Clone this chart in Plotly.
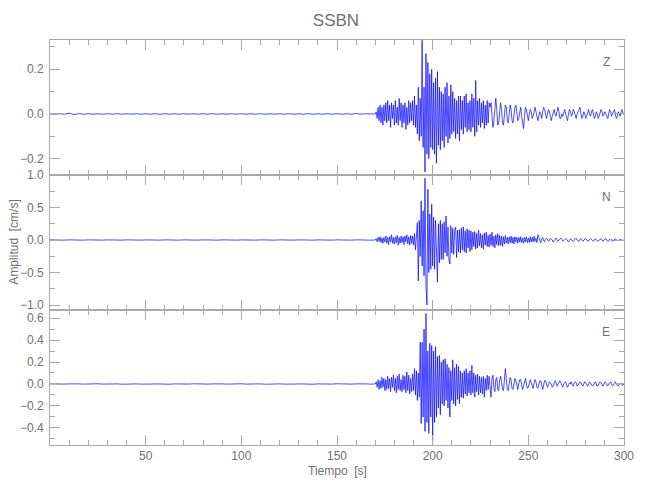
import numpy as np
import plotly.graph_objects as go
from plotly.subplots import make_subplots

# ---------------- data ----------------
station = "SSBN"
components = ["Z", "N", "E"]

# pre-event noise, sampled every 2.5 s from t = 0 to 167.5 s
pre_step = 2.5
z_pre = [0.001, -0.001, 0.001, -0.001, 0.004, -0.003, 0.002, -0.001, 0.001, -0.001,
         0.001, -0.001, 0.001, -0.001, 0.001, -0.001, 0.001, -0.001, 0.001, -0.001,
         0.001, -0.001, 0.001, -0.001, 0.001, -0.001, 0.001, -0.001, 0.001, -0.001,
         0.001, -0.001, 0.001, -0.001, 0.001, -0.001, 0.001, -0.001, 0.001, -0.001,
         0.001, -0.001, 0.001, -0.001, 0.001, -0.001, 0.001, -0.001, 0.001, -0.001,
         0.001, -0.001, 0.001, -0.001, 0.001, -0.001, 0.001, -0.001, 0.001, -0.001,
         0.001, -0.001, 0.001, -0.001, 0.002, -0.001, 0.001, -0.001]
n_pre = [0.002, -0.002, 0.002, -0.002, 0.002, -0.002, 0.002, -0.002, 0.002, -0.002,
         0.002, -0.002, 0.002, -0.002, 0.002, -0.002, 0.002, -0.002, 0.002, -0.002,
         0.002, -0.002, 0.002, -0.002, 0.002, -0.002, 0.002, -0.002, 0.002, -0.002,
         0.002, -0.002, 0.002, -0.002, 0.002, -0.002, 0.002, -0.002, 0.002, -0.002,
         0.002, -0.002, 0.002, -0.002, 0.002, -0.002, 0.002, -0.002, 0.002, -0.002,
         0.002, -0.002, 0.002, -0.002, 0.002, -0.002, 0.002, -0.002, 0.002, -0.002,
         0.002, -0.002, 0.002, -0.002, 0.002, -0.002, 0.002, -0.002]
e_pre = [0.001, -0.001, 0.002, -0.001, 0.001, -0.002, 0.001, -0.001, 0.001, -0.001,
         0.002, -0.001, 0.001, -0.001, 0.001, -0.002, 0.001, -0.001, 0.001, -0.001,
         0.002, -0.001, 0.001, -0.001, 0.001, -0.002, 0.001, -0.001, 0.001, -0.001,
         0.002, -0.001, 0.001, -0.001, 0.001, -0.002, 0.001, -0.001, 0.001, -0.001,
         0.002, -0.001, 0.001, -0.001, 0.001, -0.002, 0.001, -0.001, 0.001, -0.001,
         0.002, -0.001, 0.001, -0.001, 0.001, -0.002, 0.001, -0.001, 0.001, -0.001,
         0.002, -0.001, 0.001, -0.001, 0.001, -0.002, 0.001, -0.001]

# event part, sampled every 0.5 s from t = 170 to 300 s (cm/s)
ev_start = 170.0
ev_step = 0.5
z_ev = [
    0.00, 0.01, -0.02, 0.03, -0.03, 0.04, -0.04, 0.03, -0.05, 0.04,
    -0.03, 0.05, -0.04, 0.06, -0.03, 0.04, -0.06, 0.05, -0.02, 0.04,
    -0.05, 0.06, -0.04, 0.03, -0.05, 0.07, -0.03, 0.05, -0.06, 0.04,
    -0.04, 0.05, -0.07, 0.03, -0.05, 0.06, -0.04, 0.05, -0.03, 0.06,
    -0.05, 0.08, -0.06, 0.04, -0.09, 0.12, -0.12, 0.07, -0.10, 0.33,
    -0.15, 0.12, -0.26, 0.27, -0.18, 0.23, -0.20, 0.18, -0.15, 0.20,
    -0.16, 0.14, -0.18, 0.16, -0.22, 0.19, -0.14, 0.12, -0.16, 0.10,
    -0.12, 0.09, -0.15, 0.12, -0.10, 0.14, -0.13, 0.08, -0.11, 0.13,
    -0.09, 0.10, -0.08, 0.07, -0.11, 0.06, -0.09, 0.08, -0.12, 0.08,
    -0.07, 0.06, -0.09, 0.08, -0.06, 0.09, -0.08, 0.05, -0.07, 0.06,
    -0.08, 0.09, -0.06, 0.07, -0.10, 0.15, -0.08, 0.06, -0.05, 0.07,
    -0.06, 0.05, -0.04, 0.06, -0.065, 0.04, -0.05, 0.06, -0.04, 0.05,
    0.03, 0.05, -0.02, -0.06, -0.03, 0.04, 0.07, 0.02, -0.05, -0.04,
    0.01, 0.05, 0.02, -0.04, -0.05, 0.00, 0.04, 0.03, -0.03, -0.04,
    0.01, 0.04, 0.02, -0.03, -0.04, 0.00, 0.03, 0.04, -0.01, -0.03,
    -0.02, 0.02, 0.03, -0.01, -0.04, -0.065, -0.01, 0.03, 0.02, -0.02,
    -0.03, 0.00, 0.02, 0.01, -0.02, -0.01, 0.02, 0.03, 0.01, -0.02,
    -0.03, -0.01, 0.01, 0.00, -0.02, 0.01, 0.03, 0.02, -0.01, -0.02,
    0.00, 0.02, 0.01, -0.01, -0.03, -0.01, 0.01, 0.02, 0.00, -0.01,
    0.01, 0.03, 0.01, -0.02, -0.02, 0.00, -0.01, 0.01, 0.02, 0.00,
    -0.02, -0.03, 0.00, 0.02, 0.01, -0.01, 0.00, 0.02, 0.01, -0.01,
    -0.02, 0.00, 0.01, 0.02, 0.03, 0.00, -0.02, -0.01, 0.01, 0.00,
    -0.02, -0.01, 0.01, 0.02, 0.00, -0.01, 0.01, 0.02, 0.00, -0.02,
    -0.01, 0.01, 0.00, -0.02, -0.01, 0.01, 0.02, 0.01, -0.01, 0.00,
    0.01, 0.00, -0.01, -0.02, 0.00, 0.02, 0.01, -0.01, 0.00, 0.01,
    0.02, 0.00, -0.02, -0.01, 0.01, 0.00, -0.01, 0.01, 0.02, 0.00, 0.00]
n_ev = [
    0.00, 0.02, -0.03, 0.04, -0.02, 0.05, -0.04, 0.03, -0.05, 0.04,
    -0.03, 0.06, -0.05, 0.04, -0.07, 0.05, -0.03, 0.08, -0.05, 0.04,
    -0.06, 0.05, -0.04, 0.07, -0.08, 0.04, -0.05, 0.06, -0.04, 0.05,
    -0.07, 0.06, -0.03, 0.08, -0.06, 0.05, -0.08, 0.07, -0.05, 0.06,
    -0.08, 0.10, -0.15, 0.18, 0.27, -0.63, 0.30, -0.25, 0.60, -0.40,
    0.45, -0.55, 0.95, -0.70, -1.00, 0.78, -0.50, 0.40, -0.45, 0.55,
    -0.40, 0.35, -0.45, 0.30, -0.30, -0.65, 0.25, -0.35, 0.30, -0.30,
    0.25, -0.30, 0.28, -0.20, 0.37, -0.25, 0.20, -0.30, -0.37, 0.22,
    -0.20, 0.18, -0.22, 0.15, 0.20, -0.27, 0.15, -0.18, 0.16, -0.20,
    0.18, -0.15, 0.20, -0.18, 0.14, -0.20, 0.17, -0.12, 0.15, -0.18,
    0.14, -0.15, 0.12, -0.10, 0.13, -0.14, 0.10, -0.12, 0.15, -0.09,
    0.10, -0.12, 0.08, -0.14, 0.11, -0.08, 0.12, -0.10, 0.07, -0.11,
    0.09, -0.08, 0.12, -0.10, 0.06, -0.12, 0.08, -0.07, 0.10, -0.09,
    0.07, -0.08, 0.06, -0.10, 0.05, -0.06, 0.07, -0.05, 0.04, -0.06,
    0.05, -0.04, 0.06, -0.05, 0.04, -0.06, 0.05, -0.03, 0.04, -0.05,
    0.04, -0.03, 0.05, -0.04, 0.03, -0.05, 0.04, -0.03, 0.05, -0.04,
    0.03, -0.04, 0.05, -0.03, 0.04, -0.03, 0.06, -0.02, 0.03, -0.04,
    0.08, 0.03, -0.02, -0.04, 0.02, 0.04, -0.01, -0.03, 0.01, 0.03,
    0.01, -0.02, -0.01, 0.02, 0.01, 0.00, -0.03, -0.01, 0.02, 0.03,
    0.00, -0.02, 0.00, 0.01, 0.03, 0.01, -0.02, -0.01, 0.00, 0.02,
    0.01, -0.01, -0.03, -0.01, 0.02, 0.00, -0.01, -0.02, 0.00, 0.02,
    0.03, 0.00, -0.01, -0.02, 0.01, 0.02, 0.00, -0.02, 0.00, 0.01,
    0.02, 0.01, -0.02, -0.01, 0.00, 0.02, 0.01, -0.01, -0.02, 0.00,
    0.02, 0.00, -0.01, -0.02, 0.00, 0.01, 0.02, 0.00, -0.02, 0.00,
    0.01, 0.02, 0.00, -0.02, -0.01, 0.01, 0.00, 0.01, -0.02, -0.01,
    0.01, 0.02, 0.00, -0.01, -0.01, 0.00, 0.01, 0.01, -0.01, 0.00, 0.00]
e_ev = [
    0.00, 0.02, -0.03, 0.04, -0.05, 0.03, -0.04, 0.06, -0.03, 0.05,
    -0.06, 0.04, -0.05, 0.07, -0.04, 0.05, -0.07, 0.06, -0.03, 0.08,
    -0.06, 0.05, -0.08, 0.07, -0.05, 0.09, -0.06, 0.04, -0.07, 0.08,
    -0.05, 0.07, -0.08, 0.11, -0.06, 0.08, -0.09, 0.05, -0.07, 0.09,
    -0.06, 0.14, -0.10, 0.12, -0.15, 0.10, -0.12, 0.38, -0.36, 0.38,
    -0.30, 0.50, -0.43, 0.64, -0.35, 0.30, -0.45, 0.37, -0.30, 0.35,
    -0.51, 0.30, -0.35, 0.34, -0.30, 0.25, -0.22, 0.26, -0.28, 0.20,
    -0.18, 0.22, -0.20, 0.23, -0.15, 0.18, -0.22, 0.15, -0.30, 0.12,
    -0.15, 0.22, -0.18, 0.15, -0.20, 0.18, -0.14, 0.16, -0.18, 0.12,
    -0.12, 0.10, -0.13, 0.12, -0.09, 0.14, -0.11, 0.10, -0.08, 0.12,
    -0.10, 0.17, -0.08, 0.10, -0.12, 0.08, -0.07, 0.09, -0.10, 0.07,
    -0.08, 0.06, -0.09, 0.07, -0.12, 0.05, -0.06, 0.08, -0.05, 0.07,
    -0.06, -0.12, 0.05, 0.08, -0.04, -0.07, 0.04, 0.06, -0.05, -0.06,
    0.03, 0.07, 0.02, -0.05, -0.06, 0.06, 0.14, 0.04, -0.05, -0.06,
    0.02, 0.06, 0.03, -0.04, -0.05, 0.01, 0.05, 0.03, -0.03, -0.05,
    0.00, 0.04, 0.04, -0.02, -0.05, -0.02, 0.03, 0.05, 0.00, -0.04,
    -0.03, 0.02, 0.04, 0.01, -0.03, -0.04, 0.01, 0.04, 0.02, -0.03,
    -0.04, 0.00, 0.03, 0.03, -0.02, -0.05, -0.01, 0.03, 0.03, -0.01,
    -0.03, -0.01, 0.02, 0.01, 0.00, -0.03, -0.02, 0.01, 0.03, 0.01,
    -0.02, 0.00, 0.02, 0.03, 0.01, -0.02, -0.03, 0.00, 0.01, 0.02,
    -0.01, -0.03, -0.01, 0.01, 0.00, 0.02, -0.01, -0.02, 0.01, 0.02,
    0.01, -0.02, -0.01, 0.00, 0.02, 0.01, -0.01, -0.02, 0.00, 0.02,
    0.01, -0.01, -0.02, 0.00, 0.02, 0.01, 0.00, -0.02, -0.01, 0.01,
    0.02, 0.00, -0.02, -0.01, 0.00, 0.02, 0.01, -0.01, -0.02, 0.00,
    0.02, 0.01, -0.01, -0.02, 0.00, 0.01, 0.02, 0.00, -0.02, -0.01,
    0.01, 0.02, 0.00, -0.01, -0.02, 0.00, 0.01, 0.01, -0.01, -0.01, 0.00]

y_ranges = [[-0.273, 0.331], [-1.077, 1.0], [-0.555, 0.673]]
y_dticks = [0.2, 0.5, 0.2]
y_minor = [0.1, 0.25, 0.1]
x_ticks = [50, 100, 150, 200, 250, 300]

# ---------------- figure ----------------
# The page body adds an 8 px offset, so the figure is 642x492 placed at (8, 8).
FONT = "Liberation Sans, Arial, sans-serif"
TXT = "#707070"
AX = "#a8a8a8"
W, H = 642, 492
L, T, R, B = 40, 32, 26, 55
PW, PH = W - L - R, H - T - B   # 576 x 405

fig = make_subplots(rows=3, cols=1, shared_xaxes=True, vertical_spacing=0)

pres = [z_pre, n_pre, e_pre]
evs = [z_ev, n_ev, e_ev]
for i in range(3):
    t_pre = pre_step * np.arange(len(pres[i]))
    t_ev = ev_start + ev_step * np.arange(len(evs[i]))
    t = np.concatenate([t_pre, t_ev])
    v = np.concatenate([pres[i], evs[i]])
    fig.add_trace(go.Scatter(x=t, y=v, mode="lines",
                             line=dict(color="#0000ff", width=0.7),
                             showlegend=False, hoverinfo="skip"),
                  row=i + 1, col=1)

axis_common = dict(showline=True, linecolor=AX, linewidth=1, mirror="ticks",
                   ticks="inside", tickcolor=AX, ticklen=10, tickwidth=1,
                   showgrid=False, zeroline=False,
                   tickfont=dict(family=FONT, size=12, color=TXT))

for i in range(3):
    fig.update_xaxes(range=[0, 300], tickvals=x_ticks,
                     minor=dict(dtick=10, tick0=0, ticks="inside", ticklen=5,
                                tickcolor=AX, showgrid=False),
                     showticklabels=(i == 2), ticklabelstandoff=0,
                     row=i + 1, col=1, **axis_common)
    fig.update_yaxes(range=y_ranges[i], dtick=y_dticks[i], tick0=0,
                     tickformat=".1f",
                     minor=dict(dtick=y_minor[i], tick0=0, ticks="inside",
                                ticklen=5, tickcolor=AX, showgrid=False),
                     ticklabelstandoff=3,
                     row=i + 1, col=1, **axis_common)

annotations = []
label_y = [1 - 22 / PH, 1 - 157 / PH, 1 - 292 / PH]
for i, comp in enumerate(components):
    annotations.append(dict(text=comp, xref="paper", yref="paper",
                            x=(606 - 48) / PW, y=label_y[i],
                            showarrow=False, xanchor="center", yanchor="middle",
                            font=dict(family=FONT, size=12, color=TXT)))
annotations.append(dict(text="Amplitud  [cm/s]", xref="paper", yref="paper",
                        x=(11 - 48) / PW, y=0.5, textangle=-90,
                        showarrow=False, xanchor="center", yanchor="middle",
                        font=dict(family=FONT, size=12, color=TXT)))
annotations.append(dict(text="Tiempo  [s]", xref="paper", yref="paper",
                        x=0.5, y=-(471 - 445) / PH,
                        showarrow=False, xanchor="center", yanchor="middle",
                        font=dict(family=FONT, size=12, color=TXT)))

fig.update_layout(
    width=W, height=H,
    margin=dict(l=L, r=R, t=T, b=B),
    paper_bgcolor="white", plot_bgcolor="white",
    title=dict(text=station, x=(336 - 8) / W, xanchor="center",
               y=1 - (20 - 8) / H, yanchor="middle",
               font=dict(family=FONT, size=17, color=TXT)),
    annotations=annotations,
)

fig.write_html("out.html")
